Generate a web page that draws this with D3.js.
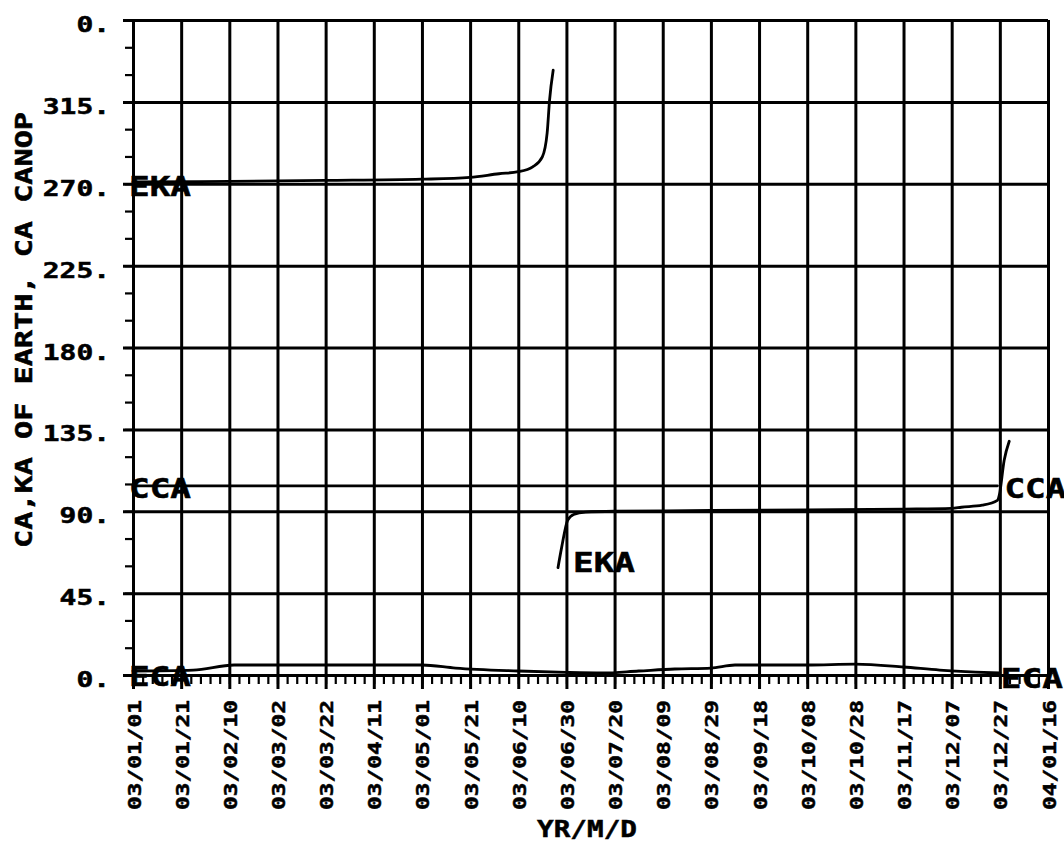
<!DOCTYPE html>
<html><head><meta charset="utf-8">
<script src="https://cdn.jsdelivr.net/npm/d3@7"></script>
<style>
body{margin:0;background:#fff}
svg{display:block;background:#fff}
text{font-family:"DejaVu Sans Mono",monospace;font-weight:bold;fill:#000;stroke:#000;stroke-width:0.5px}
</style>
</head><body>
<svg id="c" width="1064" height="844"></svg>
<script>
// ---- data ----
const tickLabels = ["03/01/01","03/01/21","03/02/10","03/03/02","03/03/22","03/04/11","03/05/01","03/05/21","03/06/10","03/06/30","03/07/20","03/08/09","03/08/29","03/09/18","03/10/08","03/10/28","03/11/17","03/12/07","03/12/27","04/01/16"];
const yTickValues = [0,45,90,135,180,225,270,315,360];
const yTickLabels = ["0.","45.","90.","135.","180.","225.","270.","315.","0."];
const yTitle = "CA,KA OF EARTH, CA CANOP";
const xTitle = "YR/M/D";

// day offsets from 03/01/01
const ekaUpperDay = [0,40,80,120,140,152,160,166,170,172,173,174.5];
const ekaUpperVal = [271,271.3,271.8,272.5,273.5,275.5,276.6,279.3,284.8,298,316,332.4];
const ekaLowerDay = [176.5,178,180.5,183,188,200,240,280,320,340,344,352.7,359,359.8,361.8,363.9];
const ekaLowerVal = [59,70,85,88.2,89.5,90.0,90.4,90.8,91.2,91.6,92.2,93.3,96,99,118,128.5];
const ccaDay = [0,100,200,300,359];
const ccaVal = [104,104,104,104,104];
const ecaDay = [0,25,42,83,120,134,160,180,195,210,225,240,250,280,300,320,335,350,360];
const ecaVal = [2.2,2.7,5.5,5.5,5.5,3.8,2.2,1.4,1.1,2.2,3.3,3.8,5.5,5.5,6.0,4.4,2.7,1.6,1.1];

// ---- setup ----
const svg = d3.select("#c");
const parseT = d3.timeParse("%y/%m/%d");
const tickDates = tickLabels.map(parseT);
const t0 = tickDates[0];
const L = 133, R = 1048, T = 20, B = 675;
const x = d3.scaleTime().domain([tickDates[0], tickDates[tickDates.length-1]]).range([L, R]);
const y = d3.scaleLinear().domain([0, 360]).range([B, T]);
const dayToDate = d => new Date(t0.getTime() + d * 86400000);

// vertical gridlines (full height, extending below axis)
svg.append("g").attr("transform", `translate(0,${T})`)
  .call(d3.axisTop(x).tickValues(tickDates).tickSize(-(689 - T)).tickFormat(""))
  .call(g => g.select(".domain").remove())
  .call(g => g.selectAll("line").attr("stroke", "#000").attr("stroke-width", 3));

// horizontal gridlines
svg.append("g").attr("transform", `translate(${R},0)`)
  .call(d3.axisRight(y).tickValues(yTickValues).tickSize(-(R - 123)).tickFormat(""))
  .call(g => g.select(".domain").remove())
  .call(g => g.selectAll("line").attr("stroke", "#000").attr("stroke-width", 3));

// x minor ticks every 4 days
const minorDates = d3.range(0, 381, 4).map(dayToDate);
svg.append("g").attr("transform", `translate(0,${B})`)
  .call(d3.axisBottom(x).tickValues(minorDates).tickSize(9).tickFormat(""))
  .call(g => g.select(".domain").remove())
  .call(g => g.selectAll("line").attr("stroke", "#000").attr("stroke-width", 2.2));

// y minor ticks every 15
svg.append("g").attr("transform", `translate(${L},0)`)
  .call(d3.axisLeft(y).tickValues(d3.range(0, 361, 15)).tickSize(8).tickFormat(""))
  .call(g => g.select(".domain").remove())
  .call(g => g.selectAll("line").attr("stroke", "#000").attr("stroke-width", 2.2));

// x tick labels
svg.append("g").attr("transform", `translate(0,${B})`)
  .call(d3.axisBottom(x).tickValues(tickDates).tickSize(0).tickFormat((d, i) => tickLabels[i]))
  .call(g => g.select(".domain").remove())
  .call(g => g.selectAll("text")
    .attr("transform", "rotate(-90)")
    .attr("x", -(25 + 110)).attr("y", 7).attr("dy", 0)
    .attr("text-anchor", "start")
    .style("font-size", "18px")
    .attr("textLength", 110).attr("lengthAdjust", "spacingAndGlyphs"));

// y tick labels (wide plotter-style glyphs via horizontal scale)
svg.append("g").attr("transform", `translate(${L},0)`)
  .call(d3.axisLeft(y).tickValues(yTickValues).tickSize(0).tickFormat((d, i) => yTickLabels[i]))
  .call(g => g.select(".domain").remove())
  .call(g => g.selectAll("text")
    .attr("x", 0).attr("y", 0).attr("dy", 0)
    .attr("text-anchor", "end")
    .attr("transform", `translate(${-(L - 110)},11.5) scale(1.33,1)`)
    .style("font-size", "21px"));

// titles
svg.append("text").attr("transform", "translate(32,548) rotate(-90)")
  .attr("text-anchor", "start").style("font-size", "23px")
  .attr("textLength", 436).attr("lengthAdjust", "spacingAndGlyphs").text(yTitle);
svg.append("text").attr("x", 537).attr("y", 837)
  .attr("text-anchor", "start").style("font-size", "23px")
  .attr("textLength", 100).attr("lengthAdjust", "spacingAndGlyphs").text(xTitle);

// series
const line = d3.line().x(d => x(dayToDate(d[0]))).y(d => y(d[1])).curve(d3.curveMonotoneX);
const series = [
  [ekaUpperDay, ekaUpperVal],
  [ekaLowerDay, ekaLowerVal],
  [ccaDay, ccaVal],
  [ecaDay, ecaVal]
];
series.forEach(([ds, vs]) => {
  svg.append("path").datum(ds.map((d, i) => [d, vs[i]]))
    .attr("d", line).attr("fill", "none").attr("stroke", "#000")
    .attr("stroke-width", 2.8).attr("stroke-linejoin", "round").attr("stroke-linecap", "round");
});

// series labels
function lab(tx, ty, s) {
  svg.append("text").attr("x", tx).attr("y", ty).style("font-size", "26px")
    .attr("text-anchor", "start")
    .attr("textLength", 62).attr("lengthAdjust", "spacingAndGlyphs").text(s);
}
lab(x(dayToDate(ekaUpperDay[0])) - 4, y(ekaUpperVal[0]) + 14, "EKA");
lab(x(dayToDate(ccaDay[0])) - 4, y(ccaVal[0]) + 12, "CCA");
lab(x(dayToDate(ecaDay[0])) - 4, y(ecaVal[0]) + 15, "ECA");
lab(x(dayToDate(ccaDay[ccaDay.length-1])) + 7, y(ccaVal[ccaVal.length-1]) + 12, "CCA");
lab(x(dayToDate(ecaDay[ecaDay.length-1])) + 1, y(ecaVal[ecaVal.length-1]) + 15, "ECA");
lab(x(dayToDate(ekaLowerDay[0])) + 15, y(ekaLowerVal[0]) + 4, "EKA");
</script>
</body></html>
